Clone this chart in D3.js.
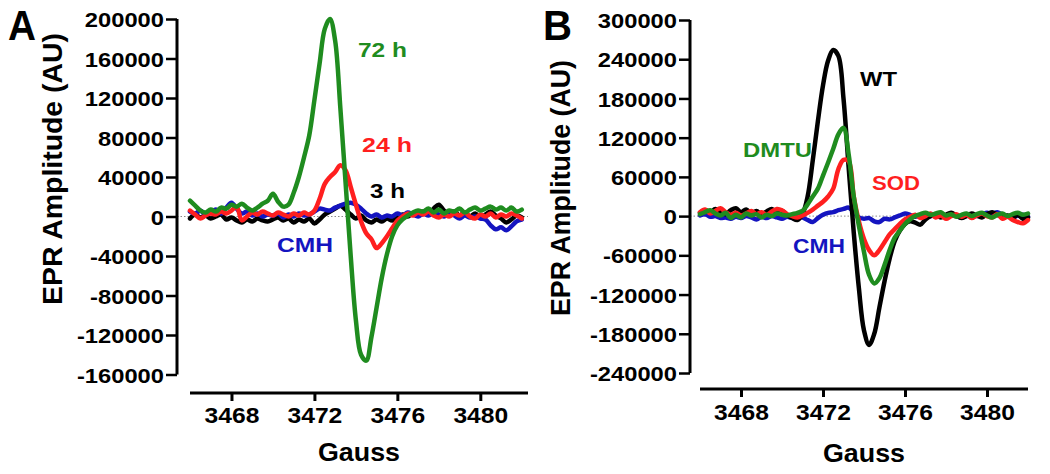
<!DOCTYPE html>
<html><head><meta charset="utf-8">
<script src="https://cdn.jsdelivr.net/npm/d3@7"></script>
<style>html,body{margin:0;padding:0;background:#fff;}svg{display:block;}</style>
</head><body>
<svg id="chart" width="1050" height="474"></svg>
<script>
// ---------- DATA ----------
const gauss = [3466,3466.25,3466.5,3466.75,3467,3467.25,3467.5,3467.75,3468,3468.25,3468.5,3468.75,3469,3469.25,3469.5,3469.75,3470,3470.25,3470.5,3470.75,3471,3471.25,3471.5,3471.75,3472,3472.25,3472.5,3472.75,3473,3473.25,3473.5,3473.75,3474,3474.25,3474.5,3474.75,3475,3475.25,3475.5,3475.75,3476,3476.25,3476.5,3476.75,3477,3477.25,3477.5,3477.75,3478,3478.25,3478.5,3478.75,3479,3479.25,3479.5,3479.75,3480,3480.25,3480.5,3480.75,3481,3481.25,3481.5,3481.75,3482];

// Panel A
const ampA_72h = [16000,11000,6000,4000,7000,5000,9000,8000,12000,10000,13000,9000,6000,9000,13000,16000,23000,15000,10000,12000,24000,40000,60000,82000,118000,155000,190000,200000,178000,110000,35000,-40000,-105000,-140000,-146000,-122000,-92000,-62000,-38000,-20000,-9000,-3000,1000,4000,6000,5000,8000,4000,7000,3000,6000,5000,8000,4000,7000,9000,6000,8000,10000,7000,9000,6000,9000,5000,7000];
const ampA_24h = [6000,2000,-2000,1000,3000,2000,5000,3000,6000,10000,-4000,0,4000,2000,5000,3000,1000,4000,2000,0,3000,1000,4000,2000,6000,18000,33000,40000,45000,52000,47000,30000,12000,-5000,-17000,-23000,-32000,-27000,-20000,-12000,-4000,0,3000,1000,4000,2000,5000,1000,-1000,2000,0,3000,1000,4000,0,-2000,2000,0,3000,-1000,2000,0,3000,1000,-2000];
const ampA_3h = [-2000,2000,-1000,1000,-2000,0,2000,-3000,-1000,-4000,-6000,-3000,-5000,-2000,-4000,-5000,-3000,-1000,-4000,-2000,-6000,-3000,-5000,-2000,-7000,-3000,2000,5000,8000,11000,7000,2000,-2000,1000,-4000,-6000,-3000,-5000,-2000,-4000,-1000,2000,0,3000,1000,5000,3000,8000,12000,6000,3000,5000,1000,4000,0,3000,-1000,2000,5000,1000,-2000,-6000,-3000,1000,-1000];
const ampA_CMH = [5000,3000,6000,2000,4000,7000,3000,9000,14000,8000,3000,5000,1000,3000,0,2000,1000,3000,-1000,2000,0,3000,1000,2000,5000,8000,7000,6000,9000,11000,13000,14000,12000,8000,3000,0,2000,-1000,1000,0,3000,1000,4000,2000,0,3000,1000,4000,2000,0,3000,1000,-2000,1000,-1000,0,-2000,-3000,-9000,-13000,-11000,-14000,-10000,-5000,-3000];

// Panel B
const ampB_WT = [5000,9000,6000,11000,7000,3000,9000,12000,6000,10000,4000,8000,3000,7000,11000,5000,8000,2000,-3000,-6000,3000,30000,85000,145000,200000,238000,254000,245000,180000,75000,-25000,-110000,-175000,-197000,-180000,-140000,-100000,-65000,-38000,-22000,-12000,-8000,-10000,-13000,-5000,0,3000,-2000,2000,5000,1000,-3000,0,4000,1000,-2000,3000,6000,2000,-1000,1000,-3000,2000,-4000,-2000];
const ampB_DMTU = [3000,6000,9000,4000,1000,5000,-3000,2000,-2000,4000,1000,3000,-2000,2000,0,4000,2000,1000,3000,5000,8000,18000,30000,42000,62000,82000,103000,125000,135000,95000,30000,-15000,-55000,-90000,-103000,-95000,-75000,-52000,-33000,-22000,-12000,-5000,0,3000,5000,2000,4000,6000,1000,3000,-1000,2000,4000,0,3000,5000,1000,-2000,2000,4000,0,3000,5000,2000,4000];
const ampB_SOD = [6000,10000,4000,8000,12000,6000,2000,5000,1000,4000,8000,3000,6000,2000,7000,11000,9000,3000,0,-2000,1000,5000,10000,16000,22000,30000,42000,72000,86000,84000,30000,-8000,-35000,-52000,-60000,-52000,-40000,-28000,-20000,-12000,-5000,-1000,2000,-3000,0,4000,-2000,1000,-4000,0,3000,-1000,2000,-3000,1000,4000,0,-2000,3000,-4000,-1000,-6000,-9000,-11000,-6000];
const ampB_CMH = [1000,3000,-1000,0,-3000,-2000,-4000,-1000,-3000,0,-2000,-5000,-1000,-3000,0,-2000,-4000,-1000,-3000,0,-2000,-6000,-9000,-3000,2000,5000,6000,9000,11000,13000,6000,-2000,-4000,-3000,-8000,-9000,-4000,-5000,-2000,1000,4000,2000,-1000,1000,-2000,0,2000,-1000,1000,3000,0,-2000,1000,3000,0,2000,5000,3000,6000,2000,0,-2000,1000,2000,-1000];

const xTicks = [3468, 3472, 3476, 3480];
const yTicksA = [200000,160000,120000,80000,40000,0,-40000,-80000,-120000,-160000];
const yTicksB = [300000,240000,180000,120000,60000,0,-60000,-120000,-180000,-240000];
const seriesNamesA = ["72 h", "24 h", "3 h", "CMH"];
const seriesNamesB = ["WT", "DMTU", "SOD", "CMH"];
const panelLetters = ["A", "B"];
const xTitle = "Gauss";
const yTitle = "EPR Amplitude (AU)";

// ---------- DRAWING ----------
const FONT = "'Liberation Sans', Arial, Helvetica, sans-serif";
const COL = {green:"#1f8c1f", red:"#ff1f1f", black:"#000000", blue:"#1414c0"};
const svg = d3.select("#chart");
svg.append("rect").attr("width",1050).attr("height",474).attr("fill","#fff");

function stretch(sel, factor){
  sel.each(function(){
    const l = this.getComputedTextLength();
    d3.select(this).attr("textLength", l*factor).attr("lengthAdjust","spacingAndGlyphs");
  });
}
function fitWidth(sel, w){
  sel.attr("textLength", w).attr("lengthAdjust","spacingAndGlyphs");
}

function drawPanel(p){
  const g = svg.append("g");
  const x = d3.scaleLinear().domain(p.xDomain).range(p.xRange);
  const y = d3.scaleLinear().domain(p.yDomain).range(p.yRange);

  // dotted zero line
  g.append("line").attr("x1", p.yAxisX).attr("x2", p.xRange[1])
    .attr("y1", y(0)).attr("y2", y(0))
    .attr("stroke","#8a8a8a").attr("stroke-width",1).attr("stroke-dasharray","1.5,2");

  // y axis
  const ya = g.append("g").attr("transform",`translate(${p.yAxisX},0)`)
    .call(d3.axisLeft(y).tickValues(p.yTicks).tickSize(11).tickPadding(2).tickFormat(d=>String(d)));
  ya.select(".domain").attr("stroke","#000").attr("stroke-width",3).attr("d",`M0,${p.yRange[1]}V${p.yRange[0]}`);
  ya.selectAll(".tick line").attr("stroke","#000").attr("stroke-width",2.5);
  ya.selectAll(".tick text").attr("font-family",FONT).attr("font-weight","bold")
    .attr("font-size",21).attr("fill","#000").attr("dy","0.36em");
  stretch(ya.selectAll(".tick text"), 1.13);

  // x axis
  const xa = g.append("g").attr("transform",`translate(0,${p.xAxisY})`)
    .call(d3.axisBottom(x).tickValues(xTicks).tickSize(8).tickFormat(d=>String(d)));
  xa.select(".domain").attr("stroke","#000").attr("stroke-width",3).attr("d",`M${p.xRange[0]},0H${p.xRange[1]}`);
  xa.selectAll(".tick line").attr("stroke","#000").attr("stroke-width",3);
  xa.selectAll(".tick text").attr("font-family",FONT).attr("font-weight","bold")
    .attr("font-size",22).attr("fill","#000").attr("y",p.xLabelBase).attr("dy",0);
  stretch(xa.selectAll(".tick text"), 1.12);

  // x title
  const xt = g.append("text").attr("x",(p.xRange[0]+p.xRange[1])/2).attr("y",p.xTitleBase)
    .attr("text-anchor","middle").attr("font-family",FONT).attr("font-weight","bold")
    .attr("font-size",25).text(xTitle);
  fitWidth(xt, 82);

  // y title
  const yt = g.append("text").attr("transform",`translate(${p.yTitleX},${p.yTitleY}) rotate(-90)`)
    .attr("text-anchor","middle").attr("font-family",FONT).attr("font-weight","bold")
    .attr("font-size",p.yTitleSize).text(yTitle);
  fitWidth(yt, p.yTitleLen);

  // panel letter
  const pl = g.append("text").attr("x",p.letterX).attr("y",39.5).attr("font-family",FONT)
    .attr("font-weight","bold").attr("font-size",43).text(p.letter);
  fitWidth(pl, p.letterW);

  // lines
  const line = d3.line().x((d,i)=>x(gauss[i])).y(d=>y(d)).curve(d3.curveCatmullRom.alpha(0.5));
  p.series.forEach(s=>{
    g.append("path").datum(s.values).attr("d",line).attr("fill","none")
      .attr("stroke",s.color).attr("stroke-width",4.5).attr("stroke-linejoin","round").attr("stroke-linecap","round");
  });

  // series labels
  p.labels.forEach(l=>{
    const t = g.append("text").attr("x",l.x).attr("y",l.y).attr("font-family",FONT)
      .attr("font-weight","bold").attr("font-size",21).attr("fill",l.color).text(l.text);
    fitWidth(t, l.w);
  });
}

drawPanel({
  letter: panelLetters[0], letterX: 8, letterW: 28,
  xDomain:[3466, 3482.3], xRange:[190, 528],
  yDomain:[-160000, 200000], yRange:[374.5, 19],
  yTicks: yTicksA, yAxisX: 177, xAxisY: 393, xLabelBase: 30, xTitleBase: 461,
  yTitleX: 62, yTitleY: 169, yTitleSize: 28, yTitleLen: 272,
  series: [
    {values: ampA_3h, color: COL.black},
    {values: ampA_CMH, color: COL.blue},
    {values: ampA_24h, color: COL.red},
    {values: ampA_72h, color: COL.green}
  ],
  labels: [
    {text: seriesNamesA[0], x: 358, y: 57, w: 49, color: COL.green},
    {text: seriesNamesA[1], x: 362, y: 152, w: 50, color: COL.red},
    {text: seriesNamesA[2], x: 370, y: 198, w: 35, color: COL.black},
    {text: seriesNamesA[3], x: 277, y: 252, w: 56, color: COL.blue}
  ]
});

drawPanel({
  letter: panelLetters[1], letterX: 543, letterW: 29,
  xDomain:[3466, 3482], xRange:[700, 1028],
  yDomain:[-240000, 300000], yRange:[373, 20],
  yTicks: yTicksB, yAxisX: 690, xAxisY: 389, xLabelBase: 31, xTitleBase: 462,
  yTitleX: 570, yTitleY: 188, yTitleSize: 27, yTitleLen: 256,
  series: [
    {values: ampB_CMH, color: COL.blue},
    {values: ampB_WT, color: COL.black},
    {values: ampB_SOD, color: COL.red},
    {values: ampB_DMTU, color: COL.green}
  ],
  labels: [
    {text: seriesNamesB[0], x: 860, y: 86, w: 37, color: COL.black},
    {text: seriesNamesB[1], x: 743, y: 157, w: 69, color: COL.green},
    {text: seriesNamesB[2], x: 872, y: 190, w: 48, color: COL.red},
    {text: seriesNamesB[3], x: 793, y: 253, w: 52, color: COL.blue}
  ]
});
</script>
</body></html>
